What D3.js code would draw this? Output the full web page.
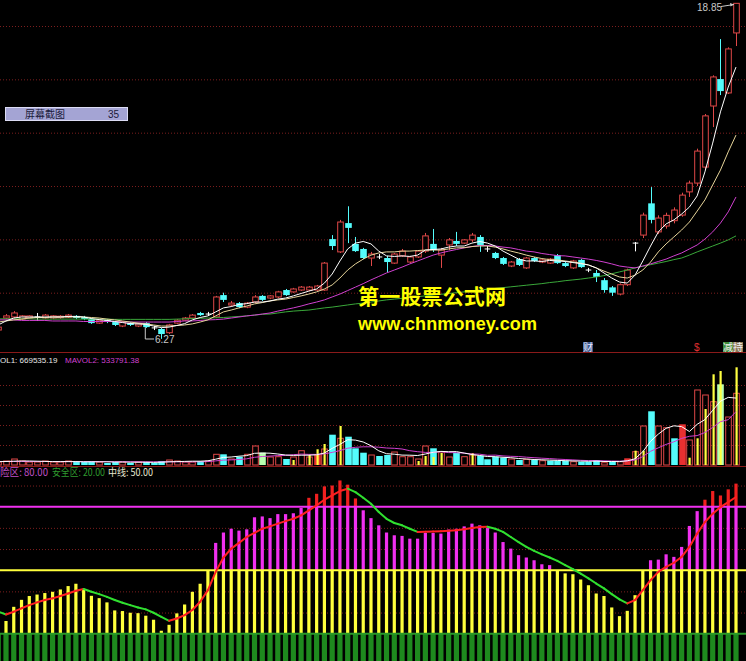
<!DOCTYPE html>
<html><head><meta charset="utf-8">
<script src="https://cdn.jsdelivr.net/npm/d3@7"></script>
<style>html,body{margin:0;padding:0;background:#000;overflow:hidden}</style>
</head><body>
<svg id="c" width="746" height="661"></svg>
<script>
// ---------- DATA ----------
const openP  = [6.60,7.05,7.09,7.01,7.05,7.09,7.05,7.05,7.06,7.09,7.13,7.09,7.01,6.86,6.97,6.90,6.75,6.86,6.75,6.86,6.68,6.64,6.50,6.86,6.97,7.05,7.24,7.20,7.09,7.91,7.54,7.61,7.46,7.65,7.88,7.80,7.84,8.10,8.03,8.10,8.10,8.10,8.10,10.01,9.53,10.61,9.83,9.64,9.30,9.34,9.30,9.11,9.38,9.15,9.34,9.56,9.83,9.41,9.79,9.94,9.86,9.98,10.09,9.64,9.49,9.30,9.00,9.26,8.93,9.30,9.15,9.11,9.41,9.11,8.93,9.23,8.85,8.74,8.47,8.20,7.95,8.30,9.86,10.16,11.35,10.28,10.50,10.70,10.91,11.78,12.11,12.71,15.00,16.01,15.49,17.74];
const highP  = [6.79,7.20,7.31,7.16,7.16,7.24,7.20,7.16,7.16,7.20,7.16,7.13,7.05,7.01,7.01,6.94,6.94,6.90,6.86,6.90,6.75,6.68,6.83,7.01,7.09,7.20,7.28,7.28,7.88,8.00,7.69,7.65,7.65,7.91,7.91,7.91,8.07,8.14,8.18,8.25,8.25,8.29,9.15,10.16,10.73,11.24,10.09,9.68,9.53,9.45,9.38,9.49,9.64,9.38,9.60,10.24,10.39,9.68,10.05,10.28,10.01,10.24,10.16,9.75,9.53,9.34,9.19,9.30,9.34,9.34,9.26,9.30,9.45,9.15,9.23,9.26,8.93,8.85,8.55,8.25,8.35,8.90,9.90,11.00,11.96,10.90,11.00,11.20,11.75,12.20,13.40,14.70,16.15,17.51,17.20,18.85];
const lowP   = [6.53,7.01,7.05,6.97,7.01,6.94,7.01,7.01,7.02,7.05,7.01,6.97,6.83,6.83,6.86,6.75,6.71,6.75,6.71,6.68,6.60,6.27,6.45,6.83,6.94,7.01,7.13,7.13,7.05,7.65,7.50,7.42,7.42,7.61,7.69,7.76,7.80,7.88,8.00,8.07,8.06,8.07,8.07,9.60,9.49,9.86,9.53,9.26,9.00,9.26,8.77,9.08,9.34,9.11,9.30,9.49,9.53,8.93,9.60,9.75,9.83,9.90,9.53,9.53,9.26,9.04,8.96,9.00,8.89,9.15,9.11,9.08,9.08,8.96,8.89,8.93,8.77,8.40,8.00,7.88,7.90,8.25,9.55,10.05,10.60,10.20,10.40,10.60,10.85,11.59,12.00,12.60,14.21,15.41,15.45,17.25];
const closeP = [6.71,7.13,7.24,7.13,7.13,7.09,7.16,7.13,7.12,7.16,7.05,7.01,6.86,6.97,6.90,6.79,6.90,6.79,6.83,6.71,6.68,6.45,6.79,6.97,7.05,7.16,7.16,7.20,7.84,7.73,7.61,7.46,7.61,7.84,7.73,7.88,8.03,7.91,8.14,8.21,8.21,8.25,9.11,9.75,10.65,10.43,9.56,9.30,9.45,9.34,9.15,9.45,9.56,9.34,9.56,10.13,9.60,9.60,9.98,9.83,9.98,10.16,9.79,9.64,9.30,9.08,9.15,9.04,9.30,9.19,9.23,9.26,9.11,9.00,9.19,8.96,8.85,8.59,8.10,8.00,8.30,8.85,9.86,10.91,10.73,10.80,10.90,11.10,11.66,12.11,13.31,14.63,16.09,15.56,17.14,18.85];
const ma5  = [6.79,6.94,7.05,7.09,7.09,7.09,7.09,7.09,7.09,7.11,7.11,7.09,7.03,6.99,6.96,6.92,6.88,6.84,6.83,6.81,6.75,6.69,6.71,6.77,6.84,6.98,7.07,7.13,7.28,7.43,7.48,7.56,7.59,7.65,7.65,7.69,7.76,7.80,7.88,7.97,8.06,8.14,8.36,8.70,9.19,9.64,9.86,9.92,9.83,9.56,9.38,9.36,9.38,9.36,9.41,9.60,9.62,9.64,9.71,9.75,9.75,9.86,9.92,9.86,9.75,9.56,9.41,9.26,9.19,9.19,9.17,9.21,9.19,9.17,9.13,9.09,9.04,8.93,8.74,8.55,8.40,8.36,8.66,9.19,9.75,10.28,10.58,10.73,10.95,11.21,11.63,12.53,13.61,14.78,15.71,16.46];
const ma10 = [6.90,6.94,6.98,7.01,7.05,7.07,7.07,7.09,7.09,7.09,7.09,7.09,7.07,7.05,7.01,6.98,6.94,6.90,6.86,6.83,6.79,6.75,6.75,6.77,6.79,6.83,6.90,6.98,7.13,7.28,7.35,7.43,7.50,7.58,7.63,7.69,7.73,7.76,7.82,7.88,7.95,8.03,8.14,8.29,8.55,8.85,9.08,9.26,9.41,9.49,9.53,9.53,9.56,9.56,9.58,9.60,9.60,9.60,9.64,9.68,9.69,9.73,9.75,9.75,9.71,9.64,9.56,9.49,9.41,9.34,9.28,9.24,9.23,9.19,9.15,9.11,9.04,8.93,8.81,8.70,8.59,8.55,8.66,8.85,9.15,9.53,9.83,10.09,10.35,10.65,11.06,11.48,12.04,12.60,13.28,13.91];
const ma20 = [6.98,6.98,6.98,6.96,6.96,6.96,6.96,6.94,6.94,6.94,6.94,6.92,6.92,6.92,6.92,6.92,6.90,6.90,6.90,6.90,6.90,6.90,6.90,6.92,6.94,6.94,6.96,6.98,6.99,7.01,7.05,7.09,7.13,7.16,7.20,7.24,7.31,7.37,7.43,7.50,7.58,7.65,7.73,7.84,7.95,8.08,8.21,8.34,8.48,8.61,8.74,8.85,8.96,9.08,9.19,9.30,9.41,9.49,9.56,9.62,9.68,9.73,9.77,9.77,9.75,9.71,9.68,9.62,9.56,9.53,9.47,9.43,9.39,9.38,9.34,9.30,9.26,9.21,9.15,9.08,9.00,8.96,8.93,9.00,9.08,9.17,9.26,9.38,9.49,9.64,9.79,10.01,10.28,10.61,11.03,11.59];
const ma60 = [7.02,7.02,7.02,7.02,7.02,7.01,7.01,7.01,7.01,7.01,7.01,7.01,7.01,7.01,7.01,7.00,7.00,7.00,7.00,7.00,7.00,7.00,7.00,7.01,7.02,7.03,7.04,7.05,7.06,7.07,7.09,7.11,7.13,7.16,7.19,7.20,7.24,7.28,7.31,7.33,7.35,7.39,7.43,7.46,7.50,7.54,7.58,7.61,7.65,7.69,7.73,7.76,7.79,7.82,7.85,7.88,7.91,7.94,7.97,8.00,8.03,8.06,8.10,8.13,8.16,8.19,8.22,8.25,8.28,8.31,8.34,8.38,8.41,8.45,8.48,8.51,8.55,8.59,8.64,8.71,8.78,8.85,8.93,8.99,9.05,9.11,9.17,9.24,9.30,9.41,9.53,9.64,9.75,9.86,9.98,10.13];
const priceGrid = [8,10,12,14,16,18];

// volume in units of 10,000 shares
const vol = [3,4,6,4,3,3,4,3,3,4, 3,3,4,3,2,3,3,2,3,3, 2,4,5,4,3,3,4,4,10.7,10.7, 6,8.3,10.7,19,12.3,8,8.3,6,8,14.3, 8,10,16,30.3,26.7,28.3,16.7,12.3,10,9, 10,13,8.3,8.3,6,19,16.7,13,8,12.3, 8.3,10,9.3,5.7,8.3,7.3,6,5,5.7,5, 4.3,4.3,4.3,4.3,3.3,3.3,3.3,5,2.3,3.3, 3.3,6.7,13.3,39,53.7,39,37.3,26.7,40.7,25, 75,70,63.3,80.7,48,71.7];
const volKind = ("uuuuuuuuuu"+"ddduddudud"+"dduuuuduud"+"uduuguuduu"+"urududddud"+"duuuuuduud"+"uuddddudud"+"udddudddud"+"uruuduudru"+"uuuguu").split("");
const volExtra = [0,0,0,0,0,0,0,0,0,0, 0,0,0,0,0,0,0,0,0,0, 0,0,0,0,0,0,0,0,0,0, 0,0,0,0,0,0,0,0,5,0, 10,15.7,21,0,39,0,0,0,0,0, 0,0,0,0,4,9,8,12,0,0, 0,12,0,0,0,0,0,0,0,0, 0,0,0,0,0,0,0,0,0,0, 0,0,14.3,14.3,0,0,0,0,0,7.3, 26.7,56,90.7,94,0,97.7];
const volMa5 = [3.4,3.5,3.8,4.0,4.0,3.8,3.6,3.4,3.4,3.4, 3.4,3.2,3.2,3.2,3.2,3.0,3.0,2.8,2.8,2.8, 2.6,2.8,3.2,3.4,3.6,3.8,3.8,4.2,5.8,7.6, 8.0,8.8,9.4,11.7,12.0,11.8,11.0,10.0,9.6,9.8, 9.8,10.2,12.0,16.6,20.6,25.3,24.9,23.0,19.3,14.2, 11.3,10.8,9.9,9.8,9.5,11.0,12.7,13.6,13.3,13.4, 11.9,10.5,9.5,8.5,8.3,7.7,7.3,6.5,6.0,5.5, 5.2,4.9,4.6,4.3,4.1,3.9,3.7,3.9,3.5,3.5, 3.4,4.2,6.2,13.3,23.7,30.9,36.7,39.2,38.4,33.5, 40.7,45.4,54.7,63.8,67.6,66.95];
const volMa10 = [3.5,3.5,3.5,3.5,3.5,3.5,3.5,3.5,3.4,3.4, 3.4,3.4,3.4,3.4,3.3,3.3,3.3,3.3,3.2,3.2, 3.2,3.2,3.2,3.2,3.2,3.2,3.3,3.4,4.1,4.9, 5.1,5.5,6.2,7.7,8.5,8.9,9.4,9.6,10.3,10.9, 10.6,10.6,11.1,12.6,14.4,16.8,17.7,18.2,18.2,17.8, 17.0,16.7,16.0,14.3,13.3,12.6,12.6,13.3,12.4,12.3, 11.9,11.0,10.8,9.7,9.9,9.1,8.7,8.5,7.8,7.3, 6.8,6.4,5.9,5.5,5.1,4.7,4.4,4.4,4.2,4.0, 3.9,4.1,5.0,8.4,13.7,17.2,20.6,23.2,26.6,28.7, 29.4,32.5,37.6,43.3,45.3,53.38];
const volGrid = [20,40,60,80];

// oscillator
const osc = [23.3,26,32.7,36,37.8,38.5,39.2,39.8,40.9,42.5, 43.6,41.2,37.9,36.8,34.8,31,30.7,29.9,29.7,28.5, 26.6,21.4,24.2,29.6,33.8,39.8,43.6,50,62.9,67.8, 69.6,68.7,69.3,75,75.4,74.6,76.5,76.5,76.9,79.4, 84.2,86.1,89.6,90,92.4,90.4,83.9,78.3,74.6,71.2, 67.8,66.5,66.2,64.9,64.9,67.6,67.6,67.3,69.2,69.6, 70.7,72,71.2,69.9,67.8,63.3,60.2,57.1,56,54.7, 52.8,52.4,50,48.5,48.1,45.6,42.9,39,37.8,32.4, 28.3,30.8,38.2,50,54.7,55,57.5,56.3,61,70.9, 77.9,83.3,87.4,85.3,88.2,90.9];
const oscLine = [30.4,29.1,30.4,32.0,33.5,34.8,35.9,36.7,37.8,39.0, 40.3,41.1,39.8,38.7,37.4,35.9,34.6,33.5,32.4,31.5, 29.9,28.0,26.1,27.2,28.8,31.2,35.1,40.6,49.2,56.0, 60.2,62.9,65.7,67.6,69.6,70.7,72.0,73.2,74.3,75.9, 78.3,80.6,83.3,85.3,87.4,88.5,86.9,84.2,81.4,77.5, 74.3,72.3,71.2,69.6,68.1,68.2,68.3,68.4,68.6,68.9, 69.3,69.9,70.4,70.5,69.6,68.1,65.7,63.3,61.0,59.1, 57.5,56.0,54.4,52.4,50.5,48.4,46.1,43.7,41.4,38.7, 36.2,34.3,35.9,40.6,45.3,49.2,51.6,53.5,56.3,61.0, 67.3,72.8,76.7,79.8,82.2,84.6];
const oscLevels = {danger:80, mid:50, safe:20};
const oscGrid = [30,40,60,70,90];

// ---------- DRAW ----------
const W = 746, H = 661, N = openP.length;
const svg = d3.select('#c');
svg.append('rect').attr('width',W).attr('height',H).attr('fill','#000');
const x = d3.scaleLinear().domain([0, 95]).range([-1.77, 736]);
const yP = d3.scaleLinear().domain([8, 18]).range([292.7, 26]);
const yV = d3.scaleLinear().domain([0, 80]).range([465, 385]);
const yO = d3.scaleLinear().domain([20, 80]).range([633.7, 506.7]);
const GRID = '#7c1e1e';

function grid(scale, vals) {
  const g = svg.append('g')
    .call(d3.axisRight(scale).tickValues(vals).tickSize(W).tickFormat(''));
  g.select('.domain').remove();
  g.selectAll('line').attr('stroke',GRID).attr('stroke-dasharray','1,2');
}
grid(yP, priceGrid);
grid(yV, volGrid);
grid(yO, oscGrid);

// panel separators
[352.5, 466.5].forEach(yy => svg.append('line').attr('x1',0).attr('x2',W).attr('y1',yy).attr('y2',yy).attr('stroke','#8a1a1a').attr('stroke-width',1));

// ---- main panel
const maLine = (arr, col) => svg.append('path').datum(arr)
  .attr('d', d3.line().x((d,i)=>x(i)).y(d=>yP(d)))
  .attr('fill','none').attr('stroke',col).attr('stroke-width',1);

const UP = '#e04848', DN = '#54fcfc';
const bw = 5.6;
const cg = svg.append('g');
for (let i = 0; i < N; i++) {
  const o = openP[i], c = closeP[i], h = highP[i], l = lowP[i];
  const cx = Math.round(x(i)) + 0.5;
  if (Math.abs(o - c) < 0.005) {
    cg.append('line').attr('x1',cx).attr('x2',cx).attr('y1',yP(h)).attr('y2',yP(l)).attr('stroke','#ffffff');
    cg.append('line').attr('x1',cx-bw/2).attr('x2',cx+bw/2).attr('y1',yP(c)).attr('y2',yP(c)).attr('stroke','#ffffff');
  } else if (c > o) {
    const top = yP(c), bot = yP(o);
    cg.append('line').attr('x1',cx).attr('x2',cx).attr('y1',yP(h)).attr('y2',top).attr('stroke',UP);
    cg.append('line').attr('x1',cx).attr('x2',cx).attr('y1',bot).attr('y2',yP(l)).attr('stroke',UP);
    cg.append('rect').attr('x',cx-bw/2).attr('y',top).attr('width',bw).attr('height',Math.max(1,bot-top))
      .attr('fill','#000').attr('stroke',UP).attr('stroke-width',1);
  } else {
    const top = yP(o), bot = yP(c);
    cg.append('line').attr('x1',cx).attr('x2',cx).attr('y1',yP(h)).attr('y2',yP(l)).attr('stroke',DN);
    cg.append('rect').attr('x',cx-bw/2-0.5).attr('y',top).attr('width',bw+1).attr('height',Math.max(1,bot-top)).attr('fill',DN);
  }
}
maLine(ma60, '#3aa83a');
maLine(ma20, '#d040d0');
maLine(ma10, '#e6d49a');
maLine(ma5, '#ffffff');

// high / low markers
svg.append('text').attr('x',697).attr('y',11).attr('fill','#c8c8c8').attr('font-family','Arial, Liberation Sans').attr('font-size',10).text('18.85');
svg.append('line').attr('x1',721).attr('y1',6.5).attr('x2',734).attr('y2',4.5).attr('stroke','#c8c8c8');
svg.append('path').attr('d','M734,4.5 l-4,-1.5 l0.5,3.5 z').attr('fill','#c8c8c8');
svg.append('path').attr('d', `M${x(19)-0.5},${yP(6.71)} V339 H154`).attr('fill','none').attr('stroke','#c8c8c8');
svg.append('text').attr('x',155).attr('y',343).attr('fill','#c8c8c8').attr('font-family','Arial, Liberation Sans').attr('font-size',10).text('6.27');

// screenshot box
svg.append('rect').attr('x',5.5).attr('y',107.5).attr('width',122).attr('height',13).attr('fill','#a4a4d4').attr('stroke','#dcdcf4');
svg.append('text').attr('x',25).attr('y',118).attr('fill','#1a1a3a').attr('font-family','Noto Sans CJK SC').attr('font-size',10).text('屏幕截图');
svg.append('text').attr('x',108).attr('y',118).attr('fill','#1a1a3a').attr('font-family','Arial').attr('font-size',10).text('35');

// watermark
svg.append('text').attr('x',358).attr('y',304).attr('fill','#ffff00').attr('font-family','Noto Sans CJK SC').attr('font-weight','bold').attr('font-size',21).attr('textLength',148).text('第一股票公式网');
svg.append('text').attr('x',358).attr('y',330).attr('fill','#ffff00').attr('font-family','Arial, Liberation Sans').attr('font-weight','bold').attr('font-size',18).attr('textLength',179).text('www.chnmoney.com');

// event markers
svg.append('rect').attr('x',583).attr('y',342).attr('width',10).attr('height',10).attr('fill','#3c5a8c');
svg.append('text').attr('x',583).attr('y',351).attr('fill','#e8e8ff').attr('font-family','Noto Sans CJK SC').attr('font-size',10).text('财');
svg.append('text').attr('x',694).attr('y',351).attr('fill','#e03030').attr('font-family','Arial').attr('font-size',10).text('$');
svg.append('rect').attr('x',723).attr('y',342).attr('width',10).attr('height',10).attr('fill','#3c8c3c');
svg.append('rect').attr('x',733).attr('y',342).attr('width',10).attr('height',10).attr('fill','#8c7a5a');
svg.append('text').attr('x',723).attr('y',351).attr('fill','#f0f0f0').attr('font-family','Noto Sans CJK SC').attr('font-size',10).text('减持');

// ---- volume panel
const vg = svg.append('g');
for (let i = 0; i < N; i++) {
  const cx = Math.round(x(i)) + 0.5, k = volKind[i];
  const top = yV(vol[i]), bot = yV(0);
  if (k === 'u') {
    vg.append('rect').attr('x',cx-bw/2).attr('y',top).attr('width',bw).attr('height',bot-top).attr('fill','none').attr('stroke',UP);
  } else {
    const col = k === 'd' ? DN : (k === 'r' ? '#e83030' : '#b8ffb0');
    vg.append('rect').attr('x',cx-bw/2-0.5).attr('y',top).attr('width',bw+1).attr('height',bot-top).attr('fill',col);
  }
  if (volExtra[i] > 0) {
    vg.append('rect').attr('x',cx-1).attr('y',yV(volExtra[i])).attr('width',2.2).attr('height',bot-yV(volExtra[i])).attr('fill','#ffff40');
  }
}
svg.append('path').datum(volMa10).attr('d', d3.line().x((d,i)=>x(i)).y(d=>yV(d))).attr('fill','none').attr('stroke','#d040d0');
svg.append('path').datum(volMa5).attr('d', d3.line().x((d,i)=>x(i)).y(d=>yV(d))).attr('fill','none').attr('stroke','#ffffff');

// titles (left edge of the original is cut by the window)
function label(txt, x0, y0, fs, col, fam) {
  svg.append('text').attr('x',x0).attr('y',y0).attr('font-family',fam).attr('font-size',fs)
    .attr('fill',col).text(txt);
}
label('OL1: 669535.19', 0, 363, 8, '#e8e8e8', 'Liberation Sans, Arial');
label('MAVOL2: 533791.38', 65, 363, 8, '#d040d0', 'Liberation Sans, Arial');

// ---- oscillator panel
const og = svg.append('g');
for (let i = 0; i < N; i++) {
  const cx = x(i), v = osc[i];
  og.append('rect').attr('x',cx-2.6).attr('y',yO(Math.min(v,20))).attr('width',5.2).attr('height',yO(0)-yO(Math.min(v,20))).attr('fill','#1e8a1e');
  if (v > 20) og.append('rect').attr('x',cx-1.6).attr('y',yO(Math.min(v,50))).attr('width',3.2).attr('height',yO(20)-yO(Math.min(v,50))).attr('fill','#ffff3c');
  if (v > 50) og.append('rect').attr('x',cx-1.6).attr('y',yO(Math.min(v,80))).attr('width',3.2).attr('height',yO(50)-yO(Math.min(v,80))).attr('fill','#f030f0');
  if (v > 80) og.append('rect').attr('x',cx-1.6).attr('y',yO(v)).attr('width',3.2).attr('height',yO(80)-yO(v)).attr('fill','#f02020');
}
const lvl = (v, col) => svg.append('line').attr('x1',0).attr('x2',W).attr('y1',yO(v)).attr('y2',yO(v)).attr('stroke',col).attr('stroke-width',2);
lvl(oscLevels.safe, '#2a9a2a');
lvl(oscLevels.mid, '#ffff3c');
lvl(oscLevels.danger, '#f030f0');
for (let i = 1; i < N; i++) {
  const col = oscLine[i] >= oscLine[i-1] ? '#ff2020' : '#30e030';
  svg.append('line').attr('x1',x(i-1)).attr('y1',yO(oscLine[i-1])).attr('x2',x(i)).attr('y2',yO(oscLine[i]))
    .attr('stroke',col).attr('stroke-width',2).attr('stroke-linecap','round');
}
const tf = 'Noto Sans CJK SC';
svg.append('text').attr('x',0).attr('y',476).attr('font-family',tf).attr('font-size',10).attr('fill','#c050c8').attr('textLength',48).attr('lengthAdjust','spacingAndGlyphs').text('险区: 80.00');
svg.append('text').attr('x',52).attr('y',476).attr('font-family',tf).attr('font-size',10).attr('fill','#2e9a2e').attr('textLength',53).attr('lengthAdjust','spacingAndGlyphs').text('安全区: 20.00');
svg.append('text').attr('x',108).attr('y',476).attr('font-family',tf).attr('font-size',10).attr('fill','#e8e8d0').attr('textLength',45).attr('lengthAdjust','spacingAndGlyphs').text('中线: 50.00');
</script>
</body></html>
